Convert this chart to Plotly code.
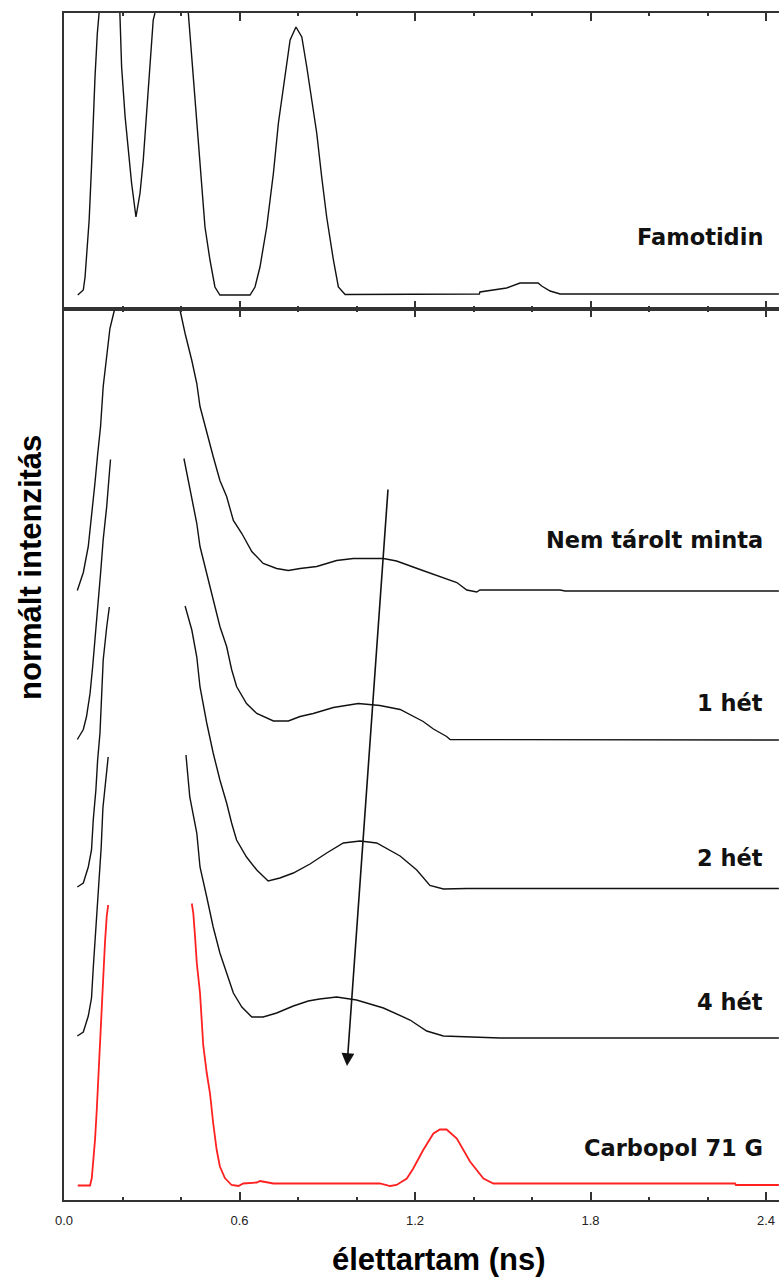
import plotly.graph_objects as go
from plotly.subplots import make_subplots

# ---------------- data (lifetime in ns, intensity in arbitrary units) ----------------
famotidin_x = [0.047, 0.066, 0.072, 0.078, 0.086, 0.094, 0.100, 0.106, 0.114, 0.120, None,
               0.191, 0.197, 0.209, 0.220, 0.231, 0.246, 0.260, 0.271, 0.283, 0.294, 0.305, 0.311, None,
               0.425, 0.437, 0.448, 0.459, 0.471, 0.482, 0.499, 0.516, 0.533, 0.636, 0.653, 0.670,
               0.693, 0.716, 0.733, 0.756, 0.773, 0.793, 0.813, 0.830, 0.847, 0.864, 0.881, 0.898,
               0.921, 0.938, 0.961, 1.420, 1.422, 1.474, 1.513, 1.559, 1.621, 1.633, 1.662, 1.696, 2.444]
famotidin_y = [14, 19, 32, 56, 89, 142, 199, 232, 276, 296, None,
               296, 242, 192, 159, 126, 92, 116, 149, 199, 242, 289, 296, None,
               296, 249, 209, 169, 122, 82, 49, 22, 14, 14, 22, 42,
               82, 136, 186, 236, 269, 282, 272, 242, 209, 176, 132, 92,
               49, 22, 14.5, 15, 17, 19, 21, 26, 26, 23, 18, 15, 15]

nem_x = [0.0455, 0.066, 0.083, 0.097, 0.106, 0.115, 0.125, 0.134, 0.146, 0.157, 0.172, None,
         0.397, 0.414, 0.437, 0.454, 0.465, 0.488, 0.510, 0.533, 0.556, 0.579, 0.608, 0.642,
         0.681, 0.727, 0.767, 0.807, 0.864, 0.932, 0.989, 1.092, 1.137, 1.217, 1.285, 1.343,
         1.377, 1.411, 1.422, 1.696, 1.713, 2.444]
nem_y = [0, 18, 44, 80, 108, 136, 164, 204, 236, 262, 280, None,
         280, 257, 230, 207, 184, 157, 134, 110, 94, 70, 57, 39,
         27, 22, 20, 22, 24, 30, 32, 32, 29.5, 21, 14, 8,
         0.5, -1.5, 0.5, 0.5, -0.5, -0.5]

het1_x = [0.0455, 0.066, 0.077, 0.089, 0.098, 0.106, 0.115, 0.125, 0.134, 0.146, 0.155, 0.159, None,
          0.410, 0.437, 0.454, 0.465, 0.488, 0.510, 0.533, 0.556, 0.573, 0.590, 0.624, 0.659,
          0.716, 0.767, 0.807, 0.852, 0.921, 1.006, 1.080, 1.149, 1.228, 1.263, 1.308, 1.320, 2.444]
het1_y = [0, 10, 23, 46, 73, 100, 126, 166, 200, 233, 266, 280, None,
          281, 240, 216, 193, 166, 140, 113, 93, 70, 53, 36, 26,
          18.5, 18.5, 23, 26, 32, 36, 34, 30, 18, 10.5, 3, 0, -0.5]

het2_x = [0.0455, 0.066, 0.083, 0.094, 0.100, 0.109, 0.115, 0.123, 0.128, 0.134, 0.146, 0.155, None,
          0.414, 0.437, 0.454, 0.465, 0.488, 0.510, 0.533, 0.556, 0.573, 0.590, 0.624, 0.659,
          0.698, 0.738, 0.784, 0.841, 0.898, 0.955, 1.012, 1.069, 1.149, 1.206, 1.251, 1.297,
          1.377, 2.444]
het2_y = [0, 4, 20, 37, 67, 97, 127, 154, 187, 227, 260, 280, None,
          281, 257, 230, 200, 164, 134, 107, 84, 64, 47, 30, 17,
          6, 9, 14, 23, 34, 44, 46, 44, 31, 17, 1.5, -2,
          -1.5, -1.5]

het4_x = [0.0455, 0.066, 0.083, 0.094, 0.100, 0.107, 0.114, 0.122, 0.127, 0.133, 0.143, 0.151, None,
          0.417, 0.430, 0.454, 0.465, 0.488, 0.510, 0.533, 0.556, 0.579, 0.608, 0.642, 0.681,
          0.727, 0.784, 0.835, 0.874, 0.932, 1.000, 1.092, 1.183, 1.240, 1.297, 1.433, 1.491, 2.444]
het4_y = [0, 4, 20, 38, 68, 98, 128, 156, 188, 228, 260, 279, None,
          281, 239, 203, 169, 139, 109, 83, 63, 43, 29, 19, 19,
          23, 30, 35, 37, 39, 36, 28, 16, 5, 0, -1, -2, -2]

carbopol_x = [0.047, 0.089, 0.095, 0.100, 0.106, 0.112, 0.117, 0.123, 0.128, 0.134, 0.140, 0.146, 0.151, None,
              0.437, 0.442, 0.448, 0.454, 0.465, 0.471, 0.476, 0.488, 0.499, 0.510, 0.522, 0.533,
              0.550, 0.573, 0.596, 0.613, 0.659, 0.670, 0.693, 0.716, 1.080, 1.115, 1.137, 1.172,
              1.194, 1.228, 1.263, 1.285, 1.308, 1.343, 1.388, 1.434, 1.468, 2.294, 2.297, 2.444]
carbopol_y = [0, 0, 7.5, 22.5, 45.5, 75.5, 105.5, 140.5, 172.5, 212.5, 242.5, 269, 280.5, None,
              282, 272.5, 249, 222.5, 192.5, 165.5, 140.5, 112.5, 92.5, 62.5, 35.5, 19,
              7.5, 0.5, -0.5, 2, 3, 4.5, 3, 2, 2, -0.5, 0.5, 7,
              17, 35.5, 52, 56, 56, 47, 24, 7, 2, 2, 0.5, 0.5]

series_names = ["Nem tárolt minta", "1 hét", "2 hét", "4 hét", "Carbopol 71 G"]
series_offsets = [609.5, 460.5, 313, 164, 14.5]
label_y = [660, 497, 342, 198, 52]          # label positions in the stacked panel
famotidin_label_y = 72

arrow_tail = (1.108, 712)
arrow_head = (0.9675, 134)

x_ticks = [0.0, 0.6, 1.2, 1.8, 2.4]
x_tick_labels = ["0.0", "0.6", "1.2", "1.8", "2.4"]

# ---------------- figure ----------------
fig = make_subplots(rows=2, cols=1, shared_xaxes=True, vertical_spacing=0,
                    row_heights=[296, 891])

fig.add_trace(go.Scatter(x=famotidin_x, y=famotidin_y, mode="lines",
                         line=dict(color="#111111", width=1.4), connectgaps=False,
                         showlegend=False, hoverinfo="skip"), row=1, col=1)

stack_x = [nem_x, het1_x, het2_x, het4_x, carbopol_x]
stack_y = [nem_y, het1_y, het2_y, het4_y, carbopol_y]
colors = ["#111111", "#111111", "#111111", "#111111", "#ff2020"]
widths = [1.4, 1.4, 1.4, 1.4, 1.8]
for xs, ys, off, c, w in zip(stack_x, stack_y, series_offsets, colors, widths):
    yy = [None if v is None else v + off for v in ys]
    fig.add_trace(go.Scatter(x=xs, y=yy, mode="lines", line=dict(color=c, width=w),
                             connectgaps=False, showlegend=False, hoverinfo="skip"),
                  row=2, col=1)

axis_col = "#333333"
xcommon = dict(range=[0, 2.4444], showline=True, linecolor=axis_col, linewidth=1.6,
               mirror="allticks", ticks="inside", ticklen=8, tickwidth=1.5,
               tickcolor=axis_col, tickvals=x_ticks, ticktext=x_tick_labels,
               minor=dict(dtick=0.2, tick0=0, ticks="inside", ticklen=3,
                          tickwidth=1.5, tickcolor=axis_col, showgrid=False),
               showgrid=False, zeroline=False)
fig.update_xaxes(**xcommon)
fig.update_xaxes(showticklabels=False, row=1, col=1)
fig.update_xaxes(showticklabels=True, ticklabelstandoff=8,
                 tickfont=dict(family="Liberation Sans, Arial", size=13, color="#222222"),
                 row=2, col=1)

ycommon = dict(showline=True, linecolor=axis_col, linewidth=2, mirror=False,
               ticks="", showticklabels=False, showgrid=False, zeroline=False)
fig.update_yaxes(range=[0, 296], **ycommon, row=1, col=1)
fig.update_yaxes(range=[0, 891], **ycommon, row=2, col=1)

label_font = dict(family="DejaVu Sans", size=22.5, color="#111111")
fig.add_annotation(x=2.397, y=famotidin_label_y, xref="x", yref="y", text="<b>Famotidin</b>",
                   showarrow=False, xanchor="right", yanchor="middle", font=label_font)
for name, ly in zip(series_names, label_y):
    fig.add_annotation(x=2.397, y=ly, xref="x2", yref="y2", text="<b>" + name + "</b>",
                       showarrow=False, xanchor="right", yanchor="middle", font=label_font)

fig.add_annotation(x=arrow_head[0], y=arrow_head[1], ax=arrow_tail[0], ay=arrow_tail[1],
                   xref="x2", yref="y2", axref="x2", ayref="y2", text="",
                   showarrow=True, arrowhead=2, arrowsize=1.6, arrowwidth=1.6,
                   arrowcolor="#111111")

fig.add_annotation(x=0.5245, y=-0.0505, xref="paper", yref="paper",
                   text="<b>élettartam (ns)</b>", showarrow=False,
                   xanchor="center", yanchor="middle",
                   font=dict(family="Liberation Sans, Arial", size=31, color="#000000"))
fig.add_annotation(x=-0.0462, y=0.5333, xref="paper", yref="paper",
                   text="<b>normált intenzitás</b>", showarrow=False, textangle=-90,
                   xanchor="center", yanchor="middle",
                   font=dict(family="Liberation Sans, Arial", size=31, color="#000000"))

fig.update_layout(width=779, height=1279, margin=dict(l=64, r=0, t=13, b=79),
                  plot_bgcolor="white", paper_bgcolor="white")

fig.write_html("out.html", config={"displayModeBar": False},
               post_script="document.body.style.margin='0';document.body.style.padding='0';")
